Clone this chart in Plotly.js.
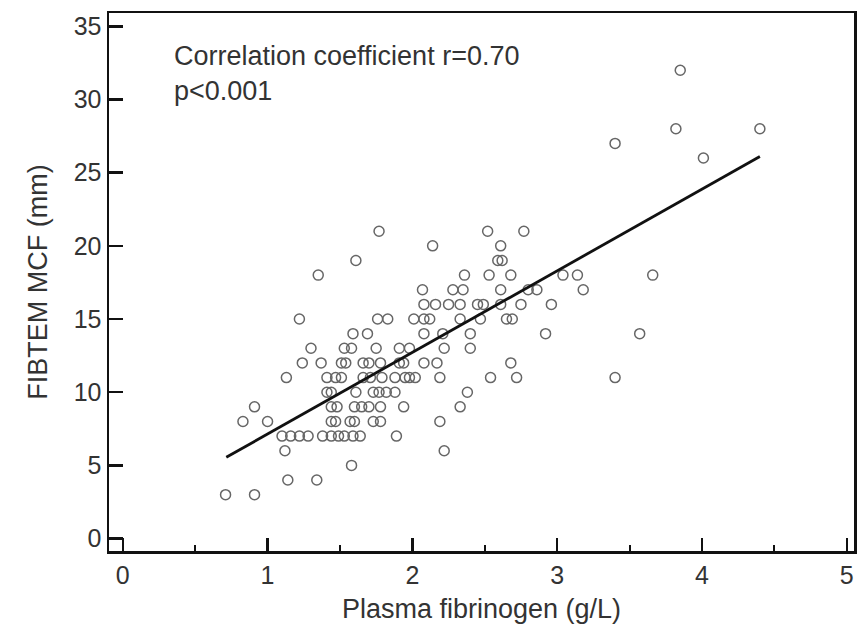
<!DOCTYPE html>
<html>
<head>
<meta charset="utf-8">
<script src="https://cdn.plot.ly/plotly-3.0.1.min.js"></script>
<style>html,body{margin:0;padding:0;background:#fff;}#chart{width:863px;height:642px;}</style>
</head>
<body>
<div id="chart"></div>
<script>
// Plasma fibrinogen (g/L)
const fibrinogen = [
  0.71, 0.91,
  1.14, 1.34,
  1.58,
  1.12, 2.22,
  1.10, 1.16, 1.22, 1.28, 1.38, 1.44, 1.49, 1.53, 1.59, 1.64, 1.89,
  0.83, 1.00, 1.44, 1.47, 1.57, 1.60, 1.73, 1.78, 2.19,
  0.91, 1.44, 1.48, 1.60, 1.65, 1.70, 1.78, 1.94, 2.33,
  1.41, 1.44, 1.61, 1.73, 1.77, 1.82, 1.88, 2.38,
  1.13, 1.41, 1.47, 1.51, 1.66, 1.71, 1.79, 1.88, 1.95, 1.98, 2.02, 2.19, 2.54, 2.72, 3.40,
  1.24, 1.37, 1.51, 1.54, 1.66, 1.70, 1.78, 1.91, 1.94, 2.08, 2.17, 2.68,
  1.30, 1.53, 1.58, 1.75, 1.91, 1.98, 2.22, 2.40,
  1.59, 1.69, 2.08, 2.21, 2.40, 2.92, 3.57,
  1.22, 1.76, 1.83, 2.01, 2.08, 2.12, 2.33, 2.47, 2.65, 2.69,
  2.08, 2.16, 2.25, 2.33, 2.45, 2.49, 2.61, 2.75, 2.96,
  2.07, 2.28, 2.35, 2.61, 2.80, 2.86, 3.18,
  1.35, 2.36, 2.53, 2.68, 3.04, 3.14, 3.66,
  1.61, 2.59, 2.62,
  2.14, 2.61,
  1.77, 2.52, 2.77,
  4.01,
  3.40,
  3.82, 4.40,
  3.85
];
// FIBTEM MCF (mm)
const mcf = [
  3, 3,
  4, 4,
  5,
  6, 6,
  7, 7, 7, 7, 7, 7, 7, 7, 7, 7, 7,
  8, 8, 8, 8, 8, 8, 8, 8, 8,
  9, 9, 9, 9, 9, 9, 9, 9, 9,
  10, 10, 10, 10, 10, 10, 10, 10,
  11, 11, 11, 11, 11, 11, 11, 11, 11, 11, 11, 11, 11, 11, 11,
  12, 12, 12, 12, 12, 12, 12, 12, 12, 12, 12, 12,
  13, 13, 13, 13, 13, 13, 13, 13,
  14, 14, 14, 14, 14, 14, 14,
  15, 15, 15, 15, 15, 15, 15, 15, 15, 15,
  16, 16, 16, 16, 16, 16, 16, 16, 16,
  17, 17, 17, 17, 17, 17, 17,
  18, 18, 18, 18, 18, 18, 18,
  19, 19, 19,
  20, 20,
  21, 21, 21,
  26,
  27,
  28, 28,
  32
];
// Regression line end points
const fitX = [0.715, 4.40];
const fitY = [5.55, 26.1];

const xTicks = [0, 1, 2, 3, 4, 5];
const yTicks = [0, 5, 10, 15, 20, 25, 30, 35];
const xTitle = 'Plasma fibrinogen (g/L)';
const yTitle = 'FIBTEM MCF (mm)';
const noteText = 'Correlation coefficient r=0.70<br>p<0.001';

const font = 'Liberation Sans, Arial, sans-serif';

const traces = [
  {
    type: 'scatter', mode: 'markers', x: fibrinogen, y: mcf,
    marker: {symbol: 'circle-open', size: 10, color: '#666', line: {width: 1.5, color: '#666'}},
    hoverinfo: 'x+y', showlegend: false
  },
  {
    type: 'scatter', mode: 'lines', x: fitX, y: fitY,
    line: {color: '#111', width: 2.8}, showlegend: false, hoverinfo: 'skip'
  }
];

const layout = {
  width: 863, height: 642,
  paper_bgcolor: '#fff', plot_bgcolor: '#fff',
  margin: {l: 109, r: 9, t: 13, b: 91},
  font: {family: font, color: '#333', size: 25},
  showlegend: false,
  xaxis: {
    range: [-0.095, 5.05], tickvals: xTicks, ticktext: xTicks.map(String),
    showgrid: false, zeroline: false,
    showline: true, linecolor: '#111', linewidth: 2.5, mirror: true,
    ticks: 'inside', ticklen: 13, tickwidth: 2.5, tickcolor: '#111',
    minor: {dtick: 0.5, tick0: 0, ticks: 'inside', ticklen: 6, tickwidth: 2, tickcolor: '#111', showgrid: false},
    tickfont: {family: font, size: 25, color: '#333'},
    title: {text: xTitle, font: {family: font, size: 27, color: '#333'}, standoff: 12}
  },
  yaxis: {
    range: [-0.85, 35.91], tickvals: yTicks, ticktext: yTicks.map(String),
    showgrid: false, zeroline: false,
    showline: true, linecolor: '#111', linewidth: 2.5, mirror: true,
    ticks: 'inside', ticklen: 14, tickwidth: 2.5, tickcolor: '#111',
    tickfont: {family: font, size: 25, color: '#333'},
    title: {text: yTitle, font: {family: font, size: 27, color: '#333'}, standoff: 18}
  },
  annotations: [{
    x: 0.34, y: 34.1, xref: 'x', yref: 'y', xanchor: 'left', yanchor: 'top', align: 'left',
    text: noteText, showarrow: false,
    font: {family: font, size: 27, color: '#333'}
  }]
};

Plotly.newPlot('chart', traces, layout, {displayModeBar: false, staticPlot: true});
</script>
</body>
</html>
